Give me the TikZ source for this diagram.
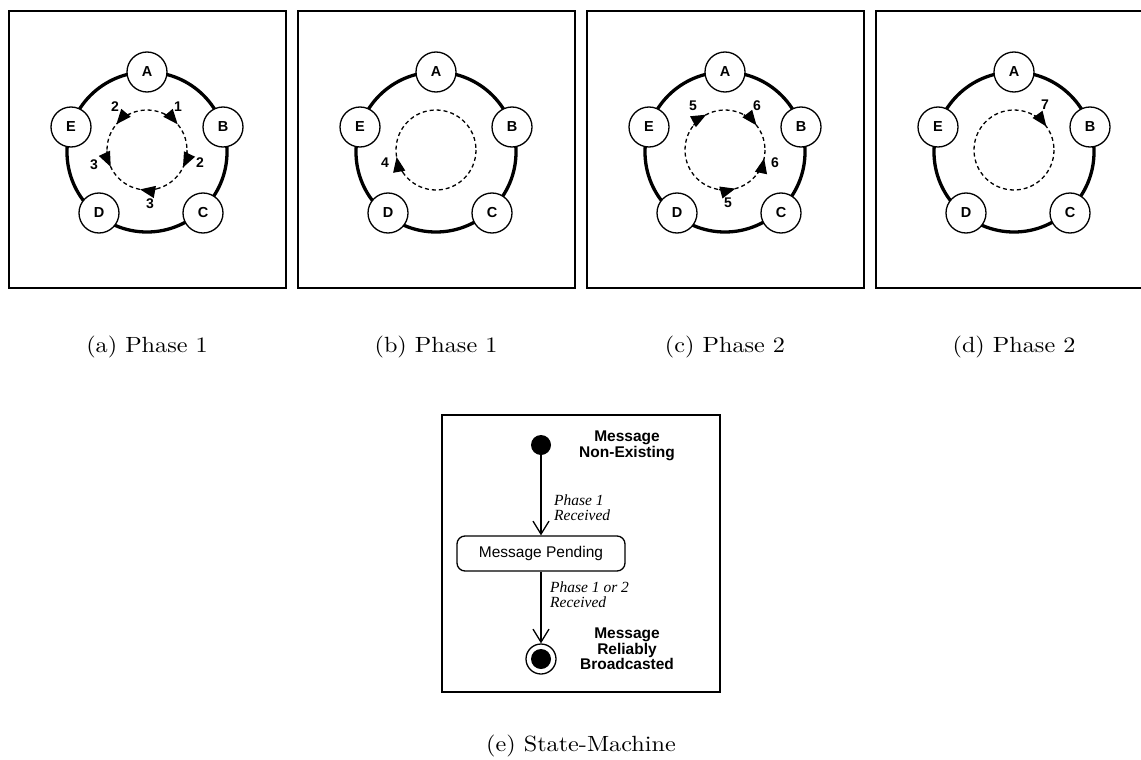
\documentclass[tikz,border=0pt]{standalone}
\usepackage{fontspec}
\usepackage{graphicx}
\usetikzlibrary{arrows.meta,calc}
\newfontfamily\hv{Liberation Sans}
\newfontfamily\tms{Liberation Serif}
\tikzset{
  frame/.style={draw, line width=1.3pt},
  peer/.style={circle, draw, fill=white, line width=1.3pt, minimum size=40pt, inner sep=0pt,
    font=\hv\bfseries\fontsize{14.5}{15}\selectfont},
  ringline/.style={line width=3.3pt},
  msgpath/.style={dash pattern=on 4pt off 3pt, line width=1.3pt},
  msgarrow/.style={msgpath, -{Triangle[length=15pt,width=12pt]}},
  num/.style={font=\hv\bfseries\fontsize{14}{15}\selectfont, inner sep=0pt},
  subcap/.style={anchor=base, inner sep=0pt},
  statelabel/.style={align=center, inner sep=0pt, font=\hv\bfseries\fontsize{15.5}{15.5}\selectfont},
  guard/.style={align=left, inner sep=0pt, anchor=north west, font=\tms\itshape\fontsize{15.5}{15}\selectfont},
  pendingbox/.style={draw, rounded corners=8pt, line width=1.3pt, minimum width=168pt, minimum height=35pt,
    inner sep=0pt, font=\hv\fontsize{15.5}{16}\selectfont},
  trans/.style={line width=1.3pt, -{Straight Barb[length=13pt,width=16pt,line width=1.3pt]}},
}
\newcommand\ringpanel[3]{%
  \begin{scope}[shift={(#2,0)}]
    \draw[frame] (9,11) rectangle (286,288);
    \coordinate (#1ring) at (147,152);
    \coordinate (#1msg) at (147,150);
    \draw[ringline] (#1ring) circle[radius=80];
    \draw[msgpath] (#1msg) circle[radius=40];
    \node[peer] (#1A) at (147,72) {A};
    \node[peer] (#1B) at (223,127) {B};
    \node[peer] (#1E) at (71,127) {E};
    \node[peer] (#1D) at (99,213) {D};
    \node[peer] (#1C) at (203,213) {C};
    \node[subcap] (#1cap) at (147,352.5) {\scalebox{2.42}[2.2]{#3}};
  \end{scope}}
\newcommand\msgarc[3]{% center, start, end
  \draw[msgarrow] ($(#1)+(#2:40)$) arc[start angle=#2, end angle=#3, radius=40];}
\begin{document}
\begin{tikzpicture}[x=1pt,y=-1pt]
\useasboundingbox (0,0) rectangle (1141,760);
\fill[white] (0,0) rectangle (1141,760);

% panel (a)
\ringpanel{a}{0}{(a) Phase 1}
\msgarc{amsg}{296}{320}
\msgarc{amsg}{2}{26}
\msgarc{amsg}{76}{100}
\msgarc{amsg}{244}{220}
\msgarc{amsg}{179}{155}
\node[num] (a1) at (178,107) {1};
\node[num] (a2l) at (115,107) {2};
\node[num] (a2r) at (200,163) {2};
\node[num] (a3l) at (94,165) {3};
\node[num] (a3b) at (150,204) {3};

% panel (b)
\ringpanel{b}{289}{(b) Phase 1}
\msgarc{bmsg}{146}{170}
\node[num] (b4) at (385,163) {4};

% panel (c)
\ringpanel{c}{578}{(c) Phase 2}
\msgarc{cmsg}{218}{242}
\msgarc{cmsg}{298}{322}
\msgarc{cmsg}{36}{12}
\msgarc{cmsg}{99}{75}
\node[num] (c5t) at (693,106) {5};
\node[num] (c6t) at (757,106) {6};
\node[num] (c6r) at (775,163) {6};
\node[num] (c5b) at (728,203) {5};

% panel (d)
\ringpanel{d}{867}{(d) Phase 2}
\msgarc{dmsg}{300}{324}
\node[num] (d7) at (1045,105) {7};

% state machine (e)
\draw[frame] (442,415) rectangle (720,692);
\node[circle, fill=black, minimum size=20pt, inner sep=0pt] (init) at (541,445) {};
\node[statelabel] (nonex) at (627,446) {Message\\Non-Existing};
\node[pendingbox] (pending) at (541,553.5) {Message Pending};
\node[circle, draw, line width=1.3pt, minimum size=30pt, inner sep=0pt,
  path picture={\fill (path picture bounding box.center) circle[radius=10pt];}] (final) at (541,659) {};
\node[statelabel] (bcast) at (627,649) {Message\\Reliably\\Broadcasted};
\draw[trans] (init) -- (pending);
\draw[trans] (pending) -- (final);
\node[guard] (g1) at (554,494.5) {Phase 1\\Received};
\node[guard] (g2) at (550,581.5) {Phase 1 or 2\\Received};
\node[subcap] (ecap) at (581,751.5) {\scalebox{2.42}[2.2]{(e) State-Machine}};
\end{tikzpicture}
\end{document}
